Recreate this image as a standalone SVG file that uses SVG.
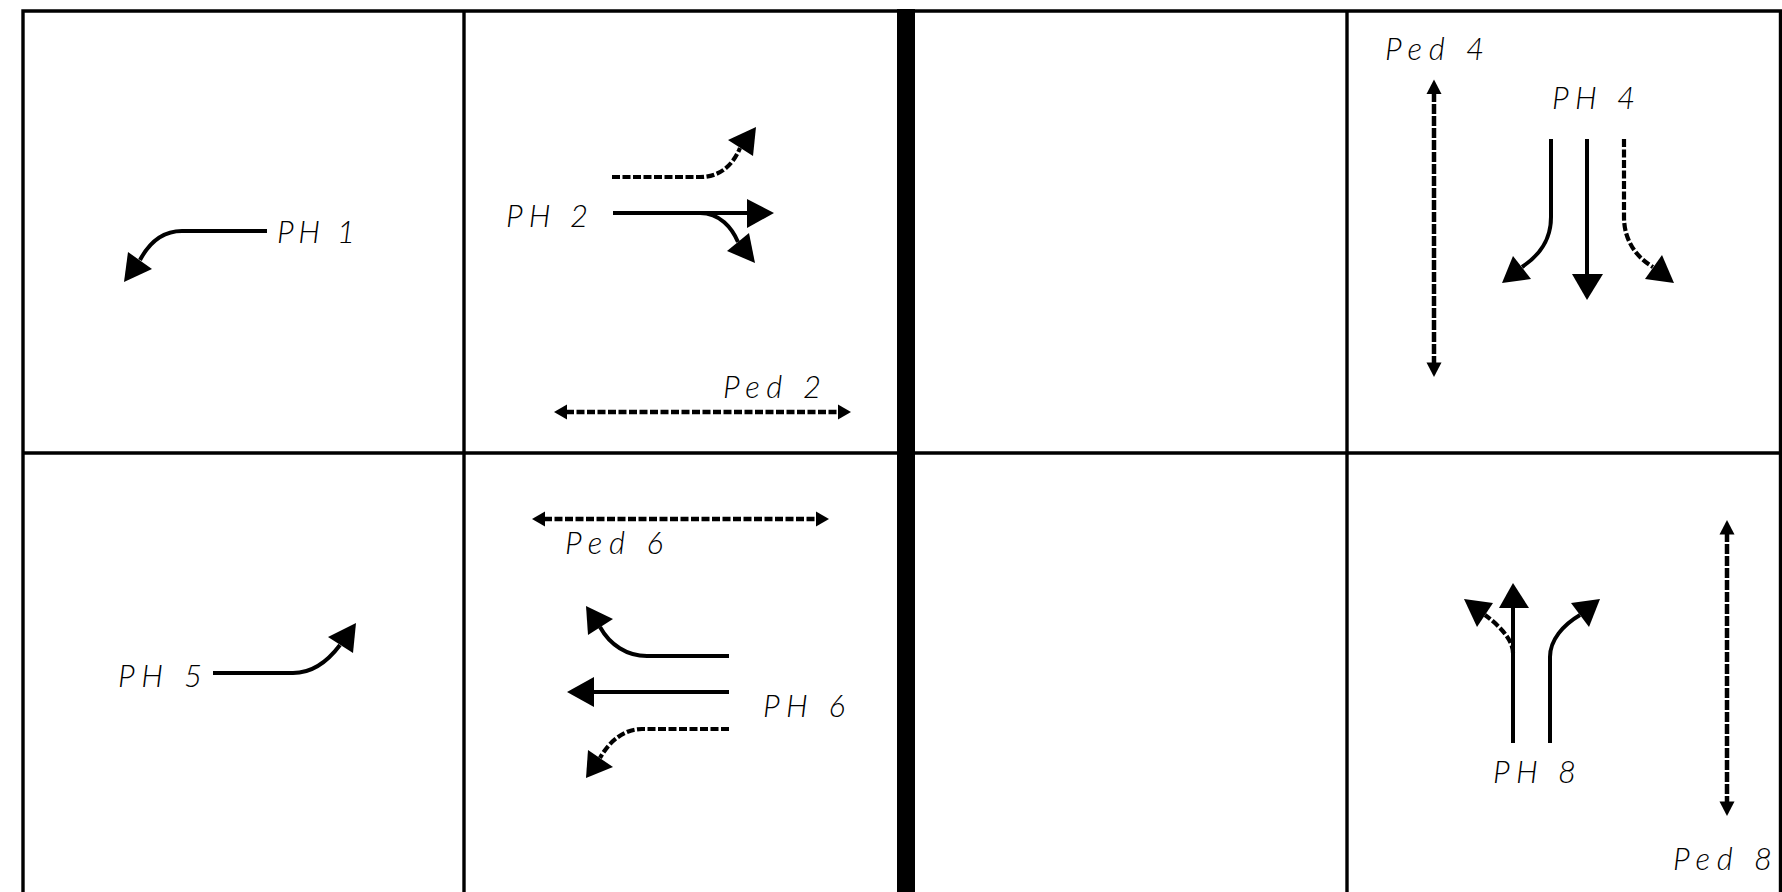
<svg xmlns="http://www.w3.org/2000/svg" width="1782" height="892" viewBox="0 0 1782 892">
<style>
.grid{stroke:#000;stroke-width:3.4;fill:none}
.lane{stroke:#000;stroke-width:4;fill:none}
.dash{stroke:#000;stroke-width:4.2;fill:none;stroke-dasharray:8 2.5}
.ped{stroke:#000;stroke-width:4.5;fill:none;stroke-dasharray:8 2.5}
.pedv{stroke:#000;stroke-width:4.5;fill:none;stroke-dasharray:10 2}
.head{fill:#000;stroke:none}
.lbl{font-family:Lato,"Liberation Sans",Arial,sans-serif;font-weight:300;font-style:italic;font-size:31px;fill:#000}
</style>
<rect width="1782" height="892" fill="#fff"/>
<g id="grid">
<path class="grid" d="M23,900 V11 H1780.5 V900"/>
<line class="grid" x1="464" y1="11" x2="464" y2="892"/>
<line class="grid" x1="1347" y1="11" x2="1347" y2="892"/>
<line class="grid" x1="23" y1="453" x2="1780.5" y2="453"/>
<rect x="897" y="9" width="18" height="883" fill="#000"/>
</g>
<g id="connectors">
<path class="lane" d="M267,231 H182 C160,231 148,245 140,260"/>
<polygon class="head" points="124,282 128,252 152,269"/>
<path class="dash" d="M612,177 H700 C720,177 733,165 740,148"/>
<polygon class="head" points="756,127 728,140 753,156"/>
<path class="lane" d="M613,213 H750"/>
<polygon class="head" points="774,213 747,199 747,228"/>
<path class="lane" d="M700,213 C720,213 732,228 738,242"/>
<polygon class="head" points="755,263 727,251 749,233"/>
<path class="ped" d="M566,412 H839"/>
<polygon class="head" points="554,412 567,404.5 567,419.5"/>
<polygon class="head" points="851,412 838,404.5 838,419.5"/>
<path class="pedv" d="M1434,92 V364"/>
<polygon class="head" points="1434,79.5 1426.5,94 1441.5,94"/>
<polygon class="head" points="1434,377 1426.5,362.5 1441.5,362.5"/>
<path class="lane" d="M1551,139 V217 C1551,240 1540,255 1522,267"/>
<polygon class="head" points="1502,283 1513,256 1531,279"/>
<path class="lane" d="M1587,139 V276"/>
<polygon class="head" points="1587,300 1572,274 1603,274"/>
<path class="dash" d="M1624,139 V217 C1624,240 1636,257 1653,267"/>
<polygon class="head" points="1674,283 1645,279 1662,255"/>
<path class="lane" d="M213,673 H293 C312,673 328,661 340,645"/>
<polygon class="head" points="356,623 328,637 353,653"/>
<path class="ped" d="M544,519 H817"/>
<polygon class="head" points="532,519 545,511.5 545,526.5"/>
<polygon class="head" points="829,519 816,511.5 816,526.5"/>
<path class="lane" d="M729,656 H647 C627,656 610,645 600,627"/>
<polygon class="head" points="586,606 613,619 588,635"/>
<path class="lane" d="M729,692 H592"/>
<polygon class="head" points="567,692 594,677 594,707"/>
<path class="dash" d="M729,729 H642 C625,729 610,740 600,758"/>
<polygon class="head" points="586,778 588,750 613,767"/>
<path class="lane" d="M1513,743 V606"/>
<polygon class="head" points="1513,583 1499,608 1529,608"/>
<path class="dash" d="M1513,653 C1513,640 1500,626 1485,615"/>
<polygon class="head" points="1464,599 1477,627 1493,603"/>
<path class="lane" d="M1550,743 V657 C1550,640 1563,625 1580,615"/>
<polygon class="head" points="1600,599 1571,603 1589,627"/>
<path class="pedv" d="M1727,532 V804"/>
<polygon class="head" points="1727,520 1719.5,534.5 1734.5,534.5"/>
<polygon class="head" points="1727,816 1719.5,801.5 1734.5,801.5"/>
</g>
<g id="labels">
<text class="lbl" x="277" y="243" textLength="78" lengthAdjust="spacing">PH 1</text>
<text class="lbl" x="506" y="227" textLength="82" lengthAdjust="spacing">PH 2</text>
<text class="lbl" x="723" y="398" textLength="98" lengthAdjust="spacing">Ped 2</text>
<text class="lbl" x="1385" y="60" textLength="99" lengthAdjust="spacing">Ped 4</text>
<text class="lbl" x="1552" y="109" textLength="83" lengthAdjust="spacing">PH 4</text>
<text class="lbl" x="118" y="687" textLength="84" lengthAdjust="spacing">PH 5</text>
<text class="lbl" x="565" y="554" textLength="98" lengthAdjust="spacing">Ped 6</text>
<text class="lbl" x="763" y="717" textLength="82" lengthAdjust="spacing">PH 6</text>
<text class="lbl" x="1493" y="783" textLength="83" lengthAdjust="spacing">PH 8</text>
<text class="lbl" x="1673" y="870" textLength="99" lengthAdjust="spacing">Ped 8</text>
</g>
</svg>
